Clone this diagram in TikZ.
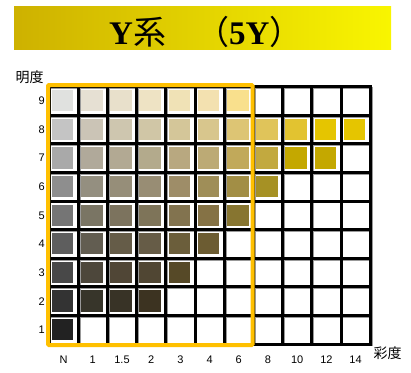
\documentclass[tikz,border=0pt]{standalone}
\usepackage{fontspec}
\setmainfont{Liberation Sans}
\newfontfamily\jp{Noto Sans CJK JP}
\newfontfamily\ttl{Liberation Serif}
\definecolor{tgold}{HTML}{B88F00}
\definecolor{tyel}{HTML}{FFFF00}
\definecolor{frame}{HTML}{FFC000}
\pgfdeclarehorizontalshading{titlebar}{100bp}{color(0bp)=(tgold); color(82bp)=(tyel); color(100bp)=(tyel)}
\tikzset{
  lbl/.style={inner sep=0pt, font=\fontsize{11}{11}\selectfont},
  jplbl/.style={inner sep=0pt, font=\jp\fontsize{14}{14}\selectfont},
  gridline/.style={line width=3pt, black},
  shadowline/.style={line width=1.5pt, black!40},
  framebox/.style={line width=4pt, frame, rounded corners=1pt}
}
\begin{document}
\begin{tikzpicture}[x=1pt,y=-1pt]
\useasboundingbox (0,0) rectangle (411,372);
\def\xo{49}\def\yo{86.7}\def\cw{29.2}\def\ch{28.6}
% title bar
\shade[shading=titlebar] (14,6) rectangle (391,49);
\node[inner sep=0pt, anchor=base west] (t1) at (109,44) {\fontsize{33}{33}\selectfont{\ttl\bfseries Y}{\jp 系}};
\node[inner sep=0pt, anchor=base west] (t2) at (196,44) {\fontsize{33}{33}\selectfont{\jp （}{\ttl\bfseries 5Y}{\jp ）}};
% grid shadow
\foreach \i in {0,...,11}
  \draw[shadowline] ({\xo+\i*\cw+1.6},\yo) -- ({\xo+\i*\cw+1.6},{\yo+9*\ch+1.6});
\foreach \j in {0,...,9}
  \draw[shadowline] (\xo,{\yo+\j*\ch+1.6}) -- ({\xo+11*\cw+1.6},{\yo+\j*\ch+1.6});
% swatches
\foreach \i/\j/\c in {
 0/0/E0E1DF,1/0/E6E0D3,2/0/E8E0CB,3/0/EEE3C4,4/0/F0E2B6,5/0/F3E1B0,6/0/F9E08D,
 0/1/C4C4C4,1/1/CBC4B6,2/1/CEC6AF,3/1/D0C6A6,4/1/D4C699,5/1/D8C68D,6/1/DDC574,7/1/E0C45A,8/1/E2C330,9/1/E5C500,10/1/E5C500,
 0/2/A9A9A9,1/2/B0A99A,2/2/B2A993,3/2/B3AA8C,4/2/B8A880,5/2/BCAA75,6/2/C1A95A,7/2/C2A93F,8/2/C4A800,9/2/C4A800,
 0/3/8E8E8E,1/3/948F80,2/3/968E79,3/3/988D74,4/3/9E8D68,5/3/9F8E58,6/3/A28E45,7/3/A69124,
 0/4/757575,1/4/7A7564,2/4/7C735E,3/4/7E7459,4/4/82734F,5/4/857245,6/4/877530,
 0/5/5E5E5E,1/5/625D51,2/5/655C48,3/5/665C47,4/5/6B5E3B,5/5/6C5C32,
 0/6/484848,1/6/4D473B,2/6/504636,3/6/504633,4/6/564927,
 0/7/333333,1/7/37352A,2/7/383326,3/7/3C3321,
 0/8/222222}
{
  \definecolor{tmpc}{HTML}{\c}
  \fill[tmpc] ({\xo+\i*\cw+2.8},{\yo+\j*\ch+3.4}) rectangle ++(21.5,21.3);
}
% black grid
\foreach \i in {0,...,11}
  \draw[gridline] ({\xo+\i*\cw},{\yo-1.5}) -- ({\xo+\i*\cw},{\yo+9*\ch+1.5});
\foreach \j in {0,...,9}
  \draw[gridline] ({\xo-1.5},{\yo+\j*\ch}) -- ({\xo+11*\cw+1.5},{\yo+\j*\ch});
% orange frame
\draw[framebox] (48,85) rectangle (252.5,345);
% row labels
\foreach \v [count=\j from 0] in {9,8,7,6,5,4,3,2,1}
  \node[lbl, anchor=east] (r\v) at (45,{\yo+\j*\ch+\ch/2}) {\v};
% column labels
\foreach \t [count=\i from 0] in {N,1,1.5,2,3,4,6,8,10,12,14}
  \node[lbl] (c\i) at ({\xo+\i*\cw+\cw/2},360) {\t};
\node[jplbl] (ml) at (29.5,77) {明度};
\node[jplbl] (sl) at (387.5,353) {彩度};
\end{tikzpicture}
\end{document}
